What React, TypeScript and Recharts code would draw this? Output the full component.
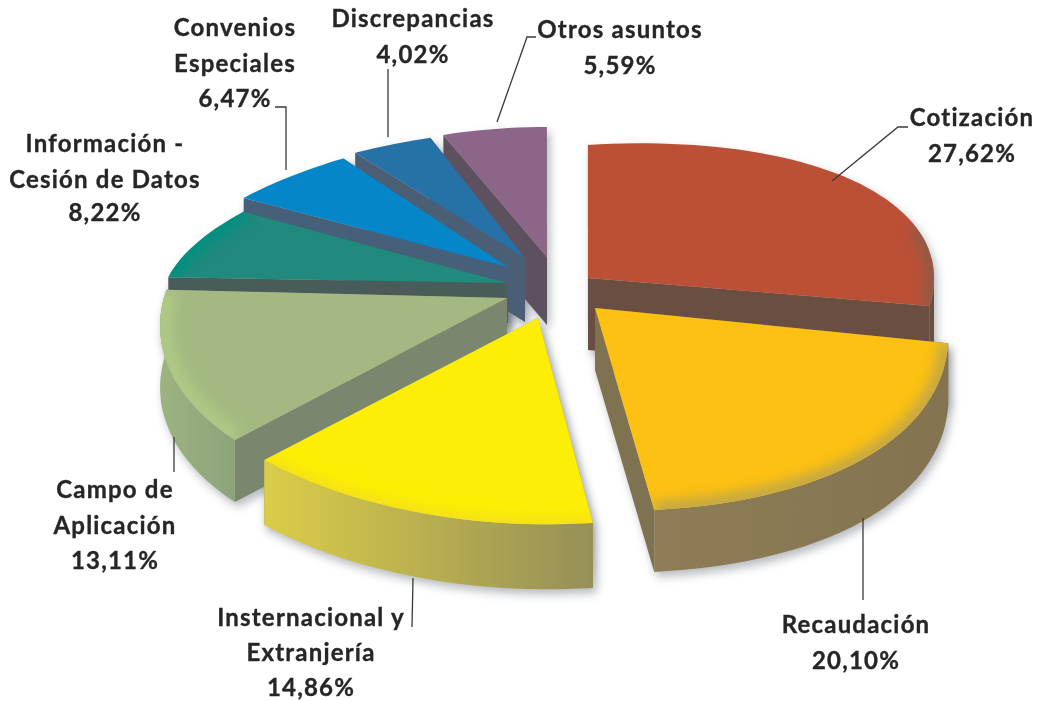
import React from "react";
import { PieChart, Pie } from "recharts";

const W = 1040, H = 701;
const CX = 540, CY = 290, R = 350;

// Drawn back-to-front; angles run counter-clockwise from the end of "Cotización".
const CATEGORIES = ["Cotización", "Otros asuntos", "Discrepancias", "Convenios Especiales", "Información - Cesión de Datos", "Campo de Aplicación", "Internacional y Extranjería", "Recaudación"];
const VALUES = [27.62, 5.59, 4.02, 6.47, 8.22, 13.11, 14.86, 20.10];
const LABEL_LINES: string[][] = [
  ["Cotización"], ["Otros asuntos"], ["Discrepancias"], ["Convenios", "Especiales"],
  ["Información -", "Cesión de Datos"], ["Campo de", "Aplicación"], ["Insternacional y", "Extranjería"], ["Recaudación"],
];
const chartData = CATEGORIES.map((name, i) => ({ name, value: VALUES[i] }));

type Geo = { ax: number; ay: number; rx0: number; rx1: number; ry0: number; ry1: number; depth: number; top: string; inner: string; wallL: string; wallR: string; rim?: string; rimFrac?: number; rimW?: number };
const GEO: Geo[] = [
  { ax: 588, ay: 278, rx0: 346, rx1: 346, ry0: 133, ry1: 170, depth: 72, top: "#bb5036", inner: "#6b4e42", wallL: "#6b4e42", wallR: "#6b4e42", rim: "#8f5a48", rimFrac: 0.72, rimW: 16 },
  { ax: 547, ay: 257, rx0: 301, rx1: 301, ry0: 130, ry1: 130, depth: 68, top: "#8b6688", inner: "#5d5160", wallL: "#5d5160", wallR: "#5d5160" },
  { ax: 525, ay: 258, rx0: 299, rx1: 275, ry0: 128, ry1: 128, depth: 64, top: "#2672a6", inner: "#4a5f75", wallL: "#4a5f75", wallR: "#4a5f75" },
  { ax: 508, ay: 267, rx0: 312, rx1: 290, ry0: 130, ry1: 132, depth: 56, top: "#0486c8", inner: "#47607a", wallL: "#47607a", wallR: "#47607a" },
  { ax: 507, ay: 283, rx0: 339, rx1: 311, ry0: 134, ry1: 134, depth: 40, top: "#21897d", inner: "#4a5c5a", wallL: "#4a5c5a", wallR: "#4a5c5a", rim: "#009080", rimFrac: 0, rimW: 20 },
  { ax: 507, ay: 298, rx0: 383, rx1: 341, ry0: 202, ry1: 190, depth: 62, top: "#a3b981", inner: "#7a876e", wallL: "#9cb381", wallR: "#8da37b", rim: "#adc884", rimFrac: 0, rimW: 26 },
  { ax: 538, ay: 318, rx0: 385, rx1: 385, ry0: 207, ry1: 202, depth: 65, top: "#fdee05", inner: "#a09a50", wallL: "#dacd48", wallR: "#968f58", rim: "#f2dc20", rimFrac: 0, rimW: 10 },
  { ax: 595, ay: 308, rx0: 358, rx1: 415, ry0: 215, ry1: 204, depth: 62, top: "#fcc112", inner: "#7f7250", wallL: "#8e7d56", wallR: "#837350", rim: "#c4a844", rimFrac: 0, rimW: 18 },
];

type LabelPos = { x: number; ys: number[]; pct: number; leader: number[][] };
const LABEL_POS: LabelPos[] = [
  { x: 972, ys: [126], pct: 162, leader: [[832, 181], [898, 127], [908, 127]] },
  { x: 620, ys: [38], pct: 74, leader: [[497, 122], [520, 57], [527, 37], [536, 37]] },
  { x: 413, ys: [27], pct: 63, leader: [[388, 137], [388, 69]] },
  { x: 235, ys: [36, 72], pct: 107, leader: [[286, 170], [286, 107], [275, 107]] },
  { x: 105, ys: [152, 188], pct: 221, leader: [] },
  { x: 115, ys: [498, 534], pct: 569, leader: [[174, 437], [174, 472]] },
  { x: 311, ys: [626, 661], pct: 696, leader: [[413, 578], [412, 627]] },
  { x: 856, ys: [633], pct: 669, leader: [[863, 518], [863, 600]] },
];

const rad = (d: number) => (d * Math.PI) / 180;

function outline(p: any, g: Geo) {
  const k = p.outerRadius / R;
  const cs = 90 - p.endAngle, ce = 90 - p.startAngle;
  const n = Math.max(8, Math.ceil((ce - cs) / 2));
  const pts: { x: number; y: number; c: number; f: number }[] = [];
  for (let i = 0; i <= n; i++) {
    const f = i / n;
    const c = cs + (ce - cs) * f;
    const rx = (g.rx0 + (g.rx1 - g.rx0) * f) * k;
    const ry = (g.ry0 + (g.ry1 - g.ry0) * f) * k;
    pts.push({ x: g.ax + Math.sin(rad(c)) * rx, y: g.ay - Math.cos(rad(c)) * ry, c, f });
  }
  return pts;
}
const poly = (a: { x: number; y: number }[]) => a.map((q, i) => `${i ? "L" : "M"}${q.x.toFixed(1)} ${q.y.toFixed(1)}`).join(" ") + " Z";

function shapeFor(mode: "shadow" | "slice") {
  return (p: any) => {
    const name = p.name ?? p.payload?.name;
    const idx = CATEGORIES.indexOf(name);
    const g = GEO[idx];
    const pts = outline(p, g);
    const apex = { x: g.ax, y: g.ay };
    const down = (q: { x: number; y: number }) => ({ x: q.x, y: q.y + g.depth });
    const topPath = poly([apex, ...pts]);
    const lower = pts.filter((q) => Math.cos(rad(q.c)) <= 0.02);
    const first = pts[0], last = pts[pts.length - 1];
    const wallS = poly([apex, first, down(first), down(apex)]);
    const wallE = poly([apex, last, down(last), down(apex)]);
    const outer = lower.length > 1 ? poly([...lower, ...lower.map(down).reverse()]) : "";
    if (mode === "shadow") {
      return (
        <g style={{ filter: "blur(5px)" }} transform="translate(3 5)">
          <path d={topPath} fill="#6f7580" fillOpacity={0.5} />
          <path d={wallS} fill="#6f7580" fillOpacity={0.5} />
          <path d={wallE} fill="#6f7580" fillOpacity={0.5} />
          {outer && <path d={outer} fill="#6f7580" fillOpacity={0.5} />}
        </g>
      );
    }
    const xs = lower.map((q) => q.x);
    const minX = xs.length ? Math.min(...xs) : g.ax, maxX = xs.length ? Math.max(...xs) : g.ax + 1;
    const rimPts = pts.filter((q) => q.f >= (g.rimFrac ?? 0));
    return (
      <g style={{ filter: "blur(0.6px)" }}>
        <defs>
          <linearGradient id={`wall${idx}`} gradientUnits="userSpaceOnUse" x1={minX} x2={maxX} y1={0} y2={0}>
            <stop offset="0" stopColor={g.wallL} />
            <stop offset="1" stopColor={g.wallR} />
          </linearGradient>
          <clipPath id={`clip${idx}`}><path d={topPath} /></clipPath>
        </defs>
        <path d={wallS} fill={g.inner} />
        <path d={wallE} fill={g.inner} />
        {outer && <path d={outer} fill={`url(#wall${idx})`} />}
        <path d={topPath} fill={g.top} />
        {g.rim && rimPts.length > 1 && (
          <g clipPath={`url(#clip${idx})`}>
            <polyline
              points={rimPts.map((q) => `${q.x.toFixed(1)},${q.y.toFixed(1)}`).join(" ")}
              fill="none" stroke={g.rim} strokeWidth={g.rimW} style={{ filter: "blur(6px)" }}
            />
          </g>
        )}
      </g>
    );
  };
}

const textStyle: React.CSSProperties = { fontFamily: "Lato, 'Open Sans', sans-serif", fontWeight: 700, fontSize: 24, letterSpacing: 1.2, fill: "#262626", stroke: "#262626", strokeWidth: 0.35, filter: "blur(0.35px)" };

function renderLabel(p: any) {
  const name = p.name ?? p.payload?.name;
  const idx = CATEGORIES.indexOf(name);
  const pos = LABEL_POS[idx];
  return (
    <g key={name}>
      {pos.leader.length > 0 && (
        <polyline points={pos.leader.map((q) => q.join(",")).join(" ")} fill="none" stroke="#3a3a3a" strokeWidth={1.3} />
      )}
      {LABEL_LINES[idx].map((line, i) => (
        <text key={line} x={pos.x} y={pos.ys[i]} textAnchor="middle" style={textStyle}>{line}</text>
      ))}
      <text x={pos.x} y={pos.pct} textAnchor="middle" style={textStyle}>
        {VALUES[idx].toFixed(2).replace(".", ",")}%
      </text>
    </g>
  );
}

export default function App() {
  const common = {
    data: chartData, dataKey: "value", nameKey: "name", cx: CX, cy: CY,
    innerRadius: 0, outerRadius: R, startAngle: -9.43, endAngle: 350.57,
    stroke: "none", isAnimationActive: false, rootTabIndex: -1,
  };
  return (
    <div style={{ position: "absolute", left: 0, top: 0, width: W, height: H, background: "#fff" }}>
      <PieChart width={W} height={H} margin={{ top: 0, right: 0, bottom: 0, left: 0 }}>
        <Pie {...common} shape={shapeFor("shadow")} />
        <Pie {...common} shape={shapeFor("slice")} label={renderLabel} labelLine={false} />
      </PieChart>
    </div>
  );
}
